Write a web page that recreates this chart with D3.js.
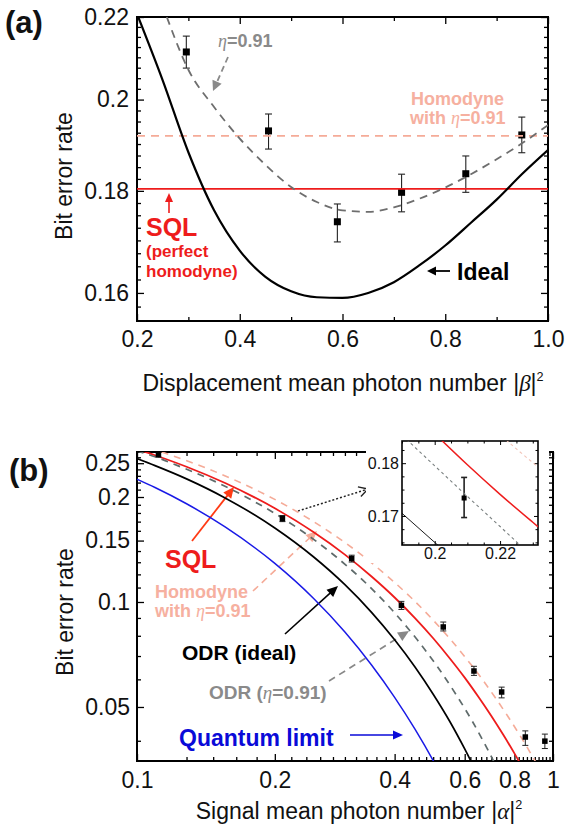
<!DOCTYPE html>
<html><head><meta charset="utf-8">
<script src="https://cdn.jsdelivr.net/npm/d3@7"></script>
<style>body{margin:0;background:#fff}svg{display:block}</style>
</head><body><svg id="c" width="566" height="824"></svg>
<script>
// ---------- Panel (a) data ----------
const aBeta   = [0.20,0.25,0.30,0.35,0.40,0.45,0.50,0.55,0.60,0.65,0.70,0.75,0.80,0.85,0.90,0.95,1.00];
const aIdeal  = [0.2208,0.2045,0.1882,0.1760,0.1680,0.1630,0.1603,0.1592,0.1591,0.1600,0.1620,0.1652,0.1690,0.1735,0.1782,0.1836,0.1887];
const aEtaBeta= [0.258,0.30,0.35,0.40,0.45,0.50,0.55,0.60,0.65,0.70,0.75,0.80,0.85,0.90,0.95,1.00];
const aEta    = [0.2200,0.2070,0.1983,0.1912,0.1855,0.1808,0.1777,0.1760,0.1757,0.1766,0.1784,0.1807,0.1835,0.1867,0.1902,0.1942];
const aPtX  = [0.296,0.456,0.590,0.715,0.840,0.949];
const aPtY  = [0.2113,0.1929,0.1737,0.1797,0.1836,0.1920];
const aPtLo = [0.2074,0.1889,0.1697,0.1757,0.1797,0.1881];
const aPtHi = [0.2152,0.1967,0.1773,0.1835,0.1874,0.1960];
const aSQL = 0.1804, aHomodyne = 0.1918;
const aXTicks = [0.2,0.4,0.6,0.8,1.0], aXMinor = [0.3,0.5,0.7,0.9];
const aYTicks = [0.16,0.18,0.2,0.22];

// ---------- Panel (b) data ----------
const bSqlN = [0.09,0.10,0.12,0.15,0.20,0.25,0.30,0.35,0.40,0.45,0.50,0.55,0.60,0.65,0.70,0.75,0.80,0.85];
const bSql  = [0.2743,0.2635,0.2442,0.2193,0.1856,0.1587,0.1367,0.1183,0.1030,0.0899,0.0787,0.0690,0.0607,0.0534,0.0471,0.0416,0.0368,0.0326];
const bHomN = [0.09,0.0989,0.1099,0.1319,0.1648,0.2198,0.2747,0.3297,0.3846,0.4396,0.4945,0.5495,0.6044,0.6593,0.7143,0.7692,0.8242,0.8791,0.9341];
const bHom  = [0.2834,0.2743,0.2635,0.2442,0.2193,0.1856,0.1587,0.1367,0.1183,0.1030,0.0899,0.0787,0.0690,0.0607,0.0534,0.0471,0.0416,0.0368,0.0326];
const bHelN = [0.09,0.10,0.12,0.15,0.20,0.25,0.30,0.35,0.40,0.45,0.50,0.55];
const bHel  = [0.2251,0.2129,0.1913,0.1641,0.1290,0.1025,0.0820,0.0660,0.0533,0.0432,0.0351,0.0285];
const bOdrN = [0.09,0.10,0.12,0.15,0.20,0.25,0.30,0.35,0.40,0.45,0.50,0.55,0.60,0.65];
const bOdr  = [0.2577,0.2460,0.2254,0.1988,0.1630,0.1348,0.1121,0.0934,0.0779,0.0651,0.0544,0.0455,0.0379,0.0316];
const bOdrEtaN = [0.09,0.103,0.114,0.137,0.171,0.228,0.285,0.342,0.399,0.456,0.513,0.570,0.627,0.684,0.741];
const bOdrEta  = [0.2712,0.2577,0.2460,0.2254,0.1988,0.1630,0.1348,0.1121,0.0934,0.0779,0.0651,0.0544,0.0455,0.0379,0.0316];
const bPtX  = [0.102,0.209,0.312,0.416,0.530,0.633,0.743,0.852,0.954];
const bPtY  = [0.265,0.1734,0.1332,0.0978,0.0848,0.0634,0.0552,0.0410,0.0399];
const bPtLo = [0.260,0.1700,0.1302,0.0952,0.0826,0.0616,0.0531,0.0388,0.0380];
const bPtHi = [0.270,0.1770,0.1362,0.1004,0.0876,0.0654,0.0570,0.0427,0.0418];
const bXTicks = [0.2,0.4,0.6,0.8,1];
const bYTicks = [0.05,0.1,0.15,0.2,0.25];
const bYMinor = [0.04,0.06,0.07,0.08,0.09,0.11,0.12,0.13,0.14,0.16,0.17,0.18,0.19,0.21,0.22,0.23,0.24,0.26];

// ---------- Inset data ----------
const iRedX = [0.19,0.20,0.21,0.22,0.23,0.235], iRed = [0.1916,0.1856,0.1797,0.1741,0.1688,0.1662];
const iEtaX = [0.19,0.20,0.21,0.22,0.23,0.235], iEta = [0.1853,0.1795,0.1737,0.1680,0.1622,0.1593];
const iOdrX = [0.188,0.20,0.21], iOdr = [0.1716,0.1650,0.1594];
const iHomX = [0.215,0.225,0.235], iHom = [0.1882,0.1827,0.1776];
const iPtX = [0.209], iPtY = [0.1734], iPtLo = [0.1697], iPtHi = [0.1773];
const iXTicks = [0.2,0.22], iYTicks = [0.17,0.18];

const FONT = '"Liberation Sans", Arial, Helvetica, sans-serif';
const RED = '#ee1c1c', BLUE = '#1a1ae6', PINK = '#f5ab98', PINKTXT = '#f6b0a0', GRAY = '#6e6e6e', GRAYTXT = '#8a8a8a';
const svg = d3.select('#c');
svg.append('rect').attr('width',566).attr('height',824).attr('fill','#fff');

function axes(g, x, y, o) {
  const [xa, xb] = x.range(); const [ya, yb] = y.range();
  const none = () => '';
  const mk = (gen, tr, vals, size, fmt, pad) => {
    const ax = g.append('g').attr('transform', tr)
      .call(gen.tickValues(vals).tickSize(size).tickSizeOuter(0).tickPadding(pad).tickFormat(fmt));
    ax.select('.domain').remove();
    ax.selectAll('line').attr('stroke','#000').attr('stroke-width', o.tw);
    ax.selectAll('text').attr('font-size', o.fs).attr('font-family', FONT).attr('fill','#111');
    return ax;
  };
  mk(d3.axisBottom(x), `translate(0,${ya})`, o.xMaj, -o.maj, o.xFmt, o.xPad);
  mk(d3.axisBottom(x), `translate(0,${ya})`, o.xMin, -o.min, none, 0);
  mk(d3.axisTop(x), `translate(0,${yb})`, o.xMaj, -o.maj, none, 0);
  mk(d3.axisTop(x), `translate(0,${yb})`, o.xMin, -o.min, none, 0);
  mk(d3.axisLeft(y), `translate(${xa},0)`, o.yMaj, -o.maj, o.yFmt, o.yPad);
  mk(d3.axisLeft(y), `translate(${xa},0)`, o.yMin, -o.min, none, 0);
  mk(d3.axisRight(y), `translate(${xb},0)`, o.yMaj, -o.maj, none, 0);
  mk(d3.axisRight(y), `translate(${xb},0)`, o.yMin, -o.min, none, 0);
  g.append('rect').attr('x',xa).attr('y',yb).attr('width',xb-xa).attr('height',ya-yb)
    .attr('fill','none').attr('stroke','#000').attr('stroke-width',o.fw);
}

function clip(id, x, y) {
  const [xa, xb] = x.range(); const [ya, yb] = y.range();
  svg.append('clipPath').attr('id', id).append('rect').attr('x',xa).attr('y',yb).attr('width',xb-xa).attr('height',ya-yb);
  return svg.append('g').attr('clip-path', `url(#${id})`);
}

function curve(g, x, y, xs, ys, color, w, dash) {
  const line = d3.line().x(d=>x(d[0])).y(d=>y(d[1])).curve(d3.curveMonotoneX);
  g.append('path').attr('d', line(xs.map((v,i)=>[v, ys[i]])))
    .attr('fill','none').attr('stroke',color).attr('stroke-width',w)
    .attr('stroke-dasharray', dash || null);
}

function points(g, x, y, xs, ys, lo, hi, sz, cap, ew) {
  xs.forEach((v,i) => {
    const cx = x(v), cy = y(ys[i]), t = y(hi[i]), b = y(lo[i]);
    g.append('line').attr('x1',cx).attr('x2',cx).attr('y1',t).attr('y2',b).attr('stroke','#222').attr('stroke-width',ew);
    g.append('line').attr('x1',cx-cap).attr('x2',cx+cap).attr('y1',t).attr('y2',t).attr('stroke','#222').attr('stroke-width',ew);
    g.append('line').attr('x1',cx-cap).attr('x2',cx+cap).attr('y1',b).attr('y2',b).attr('stroke','#222').attr('stroke-width',ew);
    g.append('rect').attr('x',cx-sz/2).attr('y',cy-sz/2).attr('width',sz).attr('height',sz).attr('fill','#000');
  });
}

function arrow(g, x1, y1, x2, y2, color, w, dash, hl, hw, open) {
  const ang = Math.atan2(y2-y1, x2-x1);
  const bx = x2 - hl*Math.cos(ang), by = y2 - hl*Math.sin(ang);
  const px = -Math.sin(ang)*hw, py = Math.cos(ang)*hw;
  g.append('line').attr('x1',x1).attr('y1',y1).attr('x2',open?x2:bx+ (x2-bx)*0.3).attr('y2',open?y2:by+(y2-by)*0.3)
    .attr('stroke',color).attr('stroke-width',w).attr('stroke-dasharray',dash||null);
  if (open) {
    g.append('path').attr('d',`M${bx+px},${by+py}L${x2},${y2}L${bx-px},${by-py}`)
      .attr('fill','none').attr('stroke',color).attr('stroke-width',1.4);
  } else {
    g.append('path').attr('d',`M${x2},${y2}L${bx+px},${by+py}L${bx-px},${by-py}Z`).attr('fill',color);
  }
}

function label(g, x, y, parts, size, color, weight, anchor) {
  const t = g.append('text').attr('x',x).attr('y',y).attr('font-family',FONT).attr('font-size',size)
    .attr('fill',color).attr('font-weight',weight||'bold').attr('text-anchor',anchor||'start');
  parts.forEach(p => {
    const s = t.append('tspan').text(p.t);
    if (p.i) s.attr('font-style','italic').attr('font-family','"Liberation Serif", "DejaVu Serif", serif').attr('font-weight','normal');
    if (p.sup) s.attr('font-size', size*0.55).attr('dy', -size*0.45);
  });
  return t;
}

// ================= Panel (a) =================
const aX = d3.scaleLinear().domain([0.2,1.0]).range([137,548]);
const aY = d3.scaleLog().domain([0.1549,0.22]).range([321,17]);
const gA = svg.append('g');
const cA = clip('clipA', aX, aY);
cA.append('line').attr('x1',aX(0.2)).attr('x2',aX(1.0)).attr('y1',aY(aHomodyne)).attr('y2',aY(aHomodyne))
  .attr('stroke',PINK).attr('stroke-width',1.6).attr('stroke-dasharray','8,6');
cA.append('line').attr('x1',aX(0.2)).attr('x2',aX(1.0)).attr('y1',aY(aSQL)).attr('y2',aY(aSQL))
  .attr('stroke',RED).attr('stroke-width',1.8);
curve(cA, aX, aY, aEtaBeta, aEta, GRAY, 1.8, '8,6');
curve(cA, aX, aY, aBeta, aIdeal, '#000', 2.2);
points(gA, aX, aY, aPtX, aPtY, aPtLo, aPtHi, 7, 3.5, 1.1);
axes(gA, aX, aY, {xMaj:aXTicks, xMin:aXMinor, yMaj:aYTicks, yMin:d3.range(0.155,0.2201,0.0025).filter(v=>!aYTicks.some(t=>Math.abs(t-v)<1e-6)),
  maj:7, min:4, tw:1.3, fw:2, fs:23, xPad:10, yPad:8, xFmt:d3.format('.1f'), yFmt:d=>String(+d.toFixed(2))});
// titles
label(gA, 0, 0, [{t:'Bit error rate'}], 23, '#111', 'normal', 'middle').attr('transform','translate(72,176) rotate(-90)').attr('x',0).attr('y',0);
label(gA, 343, 391, [{t:'Displacement mean photon number |'},{t:'β',i:1},{t:'|'},{t:'2',sup:1}], 23, '#111', 'normal', 'middle');
label(gA, 5, 33, [{t:'(a)'}], 31, '#111');
// annotations (a)
label(gA, 218, 47, [{t:'η',i:1},{t:'=0.91'}], 18, GRAYTXT);
arrow(gA, 228, 57, 213, 91, '#8a8a8a', 1.8, '6,4', 10, 5);
label(gA, 411, 105, [{t:'Homodyne'}], 18, PINKTXT);
label(gA, 410, 124, [{t:'with  '},{t:'η',i:1},{t:'=0.91'}], 18, PINKTXT);
label(gA, 146, 236, [{t:'SQL'}], 25, RED);
label(gA, 146, 257, [{t:'(perfect'}], 17, RED);
label(gA, 146, 277, [{t:'homodyne)'}], 17, RED);
arrow(gA, 169, 213, 169, 193, RED, 1.6, null, 9, 4);
arrow(gA, 450, 271, 427, 271, '#000', 1.8, null, 9, 4.5);
label(gA, 457, 280, [{t:'Ideal'}], 23, '#000');

// ================= Panel (b) =================
const bX = d3.scaleLog().domain([0.0901,1]).range([137,553]);
const bY = d3.scaleLog().domain([0.035,0.2692]).range([761,452]);
const gB = svg.append('g');
const cB = clip('clipB', bX, bY);
curve(cB, bX, bY, bHomN, bHom, PINK, 1.6, '7,6');
curve(cB, bX, bY, bSqlN, bSql, RED, 1.8);
curve(cB, bX, bY, bOdrEtaN, bOdrEta, '#5f6b6b', 1.7, '7,6');
curve(cB, bX, bY, bOdrN, bOdr, '#000', 1.7);
curve(cB, bX, bY, bHelN, bHel, BLUE, 1.5);
points(cB, bX, bY, bPtX, bPtY, bPtLo, bPtHi, 5.5, 3, 1);
const bXMinor = d3.range(0.12,0.99,0.02).filter(v=>!bXTicks.some(t=>Math.abs(t-v)<1e-6));
axes(gB, bX, bY, {xMaj:[bX.domain()[0]].concat(bXTicks), xMin:bXMinor, yMaj:bYTicks, yMin:bYMinor,
  maj:7, min:4, tw:1.3, fw:2, fs:23, xPad:11, yPad:7,
  xFmt:d=>(d<0.1?'0.1':String(d)), yFmt:d=>String(d)});
label(gB, 0, 0, [{t:'Bit error rate'}], 23, '#111', 'normal', 'middle').attr('transform','translate(73,612) rotate(-90)');
label(gB, 359, 819, [{t:'Signal mean photon number |'},{t:'α',i:1},{t:'|'},{t:'2',sup:1}], 23, '#111', 'normal', 'middle');
label(gB, 9, 481, [{t:'(b)'}], 31, '#111');
// annotations (b)
arrow(gB, 192, 541, 234, 487, '#ff3a14', 1.8, null, 11, 5);
label(gB, 165, 568, [{t:'SQL'}], 25, RED);
label(gB, 155, 598, [{t:'Homodyne'}], 18, PINKTXT);
label(gB, 155, 617, [{t:'with  '},{t:'η',i:1},{t:'=0.91'}], 18, PINKTXT);
arrow(gB, 253, 591, 317, 531, PINK, 1.6, '7,5', 11, 5);
arrow(gB, 285, 634, 338, 586, '#000', 1.6, null, 11, 5);
label(gB, 182, 660, [{t:'ODR (ideal)'}], 21, '#000');
label(gB, 209, 699, [{t:'ODR ('},{t:'η',i:1},{t:'=0.91)'}], 19, GRAYTXT);
arrow(gB, 329, 681, 409, 631, '#888', 1.7, '7,5', 11, 5);
label(gB, 179, 746, [{t:'Quantum limit'}], 23, '#0a0ad8');
arrow(gB, 350, 735, 403, 735, '#0a0ad8', 1.6, null, 10, 4.5);
arrow(gB, 298, 511, 368, 489, '#222', 1.5, '2,2', 9, 5, true);

// ================= Inset =================
svg.append('rect').attr('x',366).attr('y',437).attr('width',183).attr('height',126).attr('fill','#fff');
const iX = d3.scaleLinear().domain([0.190,0.2316]).range([402,538]);
const iY = d3.scaleLinear().domain([0.1645,0.1842]).range([545,441]);
const gI = svg.append('g');
const cI = clip('clipI', iX, iY);
curve(cI, iX, iY, iHomX, iHom, '#f2c4b8', 1.1, '3,3');
curve(cI, iX, iY, iRedX, iRed, RED, 1.5);
curve(cI, iX, iY, iEtaX, iEta, '#7a8080', 1.1, '3,3');
curve(cI, iX, iY, iOdrX, iOdr, '#000', 0.9);
points(gI, iX, iY, iPtX, iPtY, iPtLo, iPtHi, 5, 3, 1.6);
axes(gI, iX, iY, {xMaj:iXTicks, xMin:d3.range(0.19,0.232,0.005).filter(v=>!iXTicks.some(t=>Math.abs(t-v)<1e-6)),
  yMaj:iYTicks, yMin:d3.range(0.165,0.1842,0.0025).filter(v=>!iYTicks.some(t=>Math.abs(t-v)<1e-6)),
  maj:4, min:2.5, tw:1, fw:1.6, fs:16, xPad:3, yPad:3, xFmt:d=>String(d), yFmt:d=>String(d)});
</script></body></html>
